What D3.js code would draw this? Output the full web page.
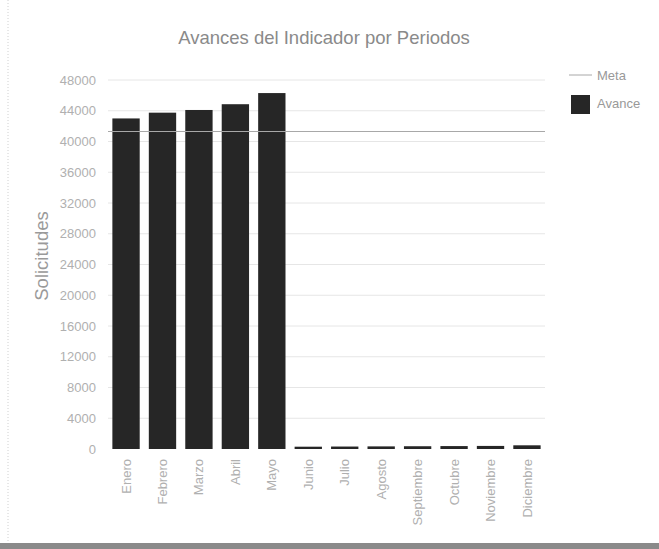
<!DOCTYPE html>
<html>
<head>
<meta charset="utf-8">
<script src="https://cdnjs.cloudflare.com/ajax/libs/d3/7.8.5/d3.min.js"></script>
<style>
  body { margin: 0; background: #fff; }
  svg text { font-family: "Liberation Sans", Arial, sans-serif; }
</style>
</head>
<body>
<svg id="chart"></svg>
<script>
const meses = ['Enero', 'Febrero', 'Marzo', 'Abril', 'Mayo', 'Junio', 'Julio',
  'Agosto', 'Septiembre', 'Octubre', 'Noviembre', 'Diciembre'];
const avance = [43000, 43750, 44100, 44850, 46300, 300, 320, 340, 360, 380, 400, 480];
const meta = [41300, 41300, 41300, 41300, 41300, 41300, 41300, 41300, 41300, 41300, 41300, 41300];
const yTicks = [0, 4000, 8000, 12000, 16000, 20000, 24000, 28000, 32000, 36000, 40000, 44000, 48000];

const W = 659, H = 549;
const margin = { top: 80, right: 114, bottom: 100, left: 108 };
const w = W - margin.left - margin.right;
const h = H - margin.top - margin.bottom;

const svg = d3.select('#chart')
  .attr('width', W)
  .attr('height', H);

// page edges from the scan
svg.append('line')
  .attr('x1', 8).attr('x2', 8).attr('y1', 0).attr('y2', 543)
  .attr('stroke', '#d0d0d0').attr('stroke-dasharray', '1,2');
svg.append('rect')
  .attr('x', 0).attr('y', 543).attr('width', W).attr('height', 6)
  .attr('fill', '#8a8a8a');

const g = svg.append('g')
  .attr('transform', 'translate(' + margin.left + ',' + margin.top + ')');

const x = d3.scaleBand().domain(meses).range([0, w]).paddingInner(0.25).paddingOuter(0.12);
const y = d3.scaleLinear().domain([0, 48000]).range([h, 0]);

// gridlines
g.selectAll('.grid')
  .data(yTicks.filter(function (d) { return d > 0; }))
  .enter()
  .append('line')
  .attr('x1', 0).attr('x2', w)
  .attr('y1', function (d) { return y(d); })
  .attr('y2', function (d) { return y(d); })
  .attr('stroke', '#e6e6e6');

const yAxis = g.append('g')
  .call(d3.axisLeft(y).tickValues(yTicks).tickFormat(d3.format('d')).tickSize(0).tickPadding(12));
yAxis.select('.domain').remove();
yAxis.selectAll('text').attr('fill', '#b0b0b0').style('font-size', '13px');

g.selectAll('.bar')
  .data(avance)
  .enter()
  .append('rect')
  .attr('x', function (d, i) { return x(meses[i]); })
  .attr('y', function (d) { return y(d); })
  .attr('width', x.bandwidth())
  .attr('height', function (d) { return h - y(d); })
  .attr('fill', '#262626');

// meta line
const line = d3.line()
  .x(function (d, i) { return i === 0 ? 0 : (i === meta.length - 1 ? w : x(meses[i]) + x.bandwidth() / 2); })
  .y(function (d) { return y(d); });
g.append('path')
  .datum(meta)
  .attr('d', line)
  .attr('fill', 'none')
  .attr('stroke', '#a8a8a8')
  .attr('stroke-width', 1.2);

const xAxis = g.append('g')
  .attr('transform', 'translate(0,' + h + ')')
  .call(d3.axisBottom(x).tickSize(0).tickPadding(0));
xAxis.select('.domain').remove();
xAxis.selectAll('text')
  .attr('transform', 'rotate(-90)')
  .attr('x', -10)
  .attr('y', 0)
  .attr('dy', '0.35em')
  .style('text-anchor', 'end')
  .style('font-size', '13px')
  .attr('fill', '#b0b0b0');

// title
svg.append('text')
  .attr('x', 324)
  .attr('y', 44)
  .attr('text-anchor', 'middle')
  .style('font-size', '18.5px')
  .attr('fill', '#8a8a8a')
  .text('Avances del Indicador por Periodos');

// y label
svg.append('text')
  .attr('transform', 'translate(48,256) rotate(-90)')
  .attr('text-anchor', 'middle')
  .style('font-size', '18.5px')
  .attr('fill', '#9a9a9a')
  .text('Solicitudes');

// legend
const legend = svg.append('g');
legend.append('line')
  .attr('x1', 569).attr('x2', 592).attr('y1', 75).attr('y2', 75)
  .attr('stroke', '#a8a8a8');
legend.append('text')
  .attr('x', 597).attr('y', 80)
  .style('font-size', '13px')
  .attr('fill', '#999')
  .text('Meta');
legend.append('rect')
  .attr('x', 571).attr('y', 95).attr('width', 19).attr('height', 19)
  .attr('fill', '#262626');
legend.append('text')
  .attr('x', 597).attr('y', 108)
  .style('font-size', '13px')
  .attr('fill', '#999')
  .text('Avance');
</script>
</body>
</html>
